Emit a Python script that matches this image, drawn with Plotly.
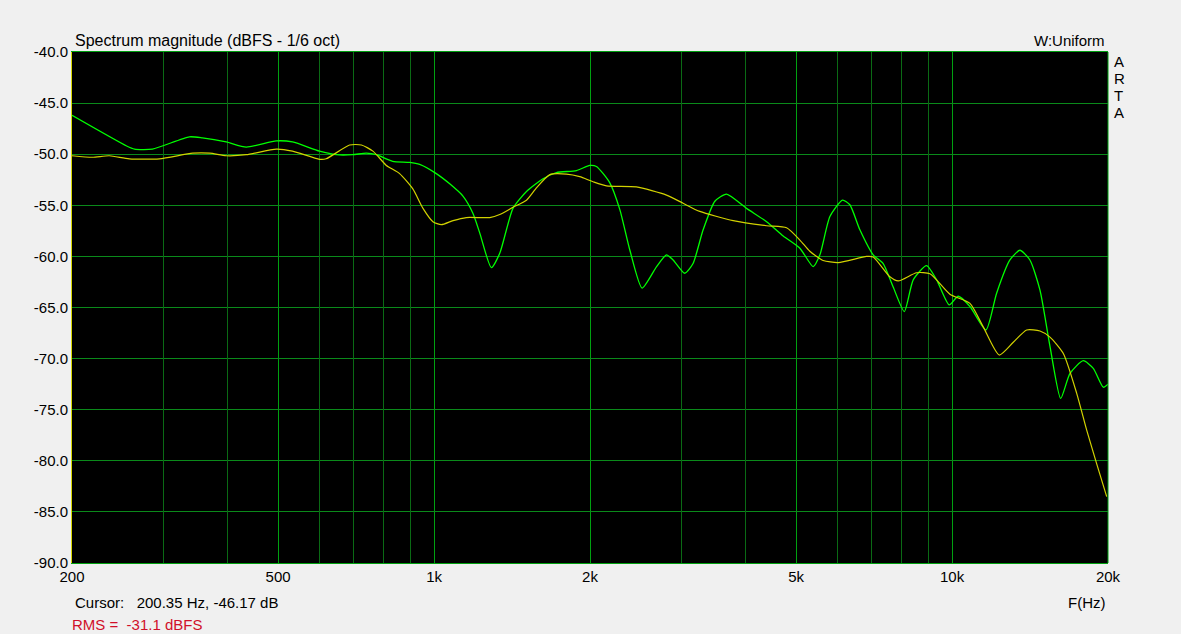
import plotly.graph_objects as go

green_freq = [200, 255, 264, 286, 337, 357, 397, 434, 496, 533, 601, 648, 696, 740,
              774, 832, 897, 938, 1010, 1072, 1137, 1189, 1225, 1290, 1339, 1420,
              1508, 1623, 1723, 1883, 1998, 2058, 2184, 2283, 2388, 2521, 2689,
              2810, 2894, 3048, 3162, 3307, 3484, 3669, 4011, 4385, 4720, 5084,
              5394, 5557, 5810, 6146, 6349, 6638, 7043, 7362, 7697, 8088, 8414,
              8930, 9338, 9875, 10278, 10828, 11628, 12190, 12934, 13521, 14135,
              14782, 15453, 16206, 16892, 17919, 18734, 19584, 20000]
green_db = [-46.2, -49.2, -49.5, -49.5, -48.3, -48.4, -48.8, -49.3, -48.7, -48.8,
            -49.7, -50.05, -50.05, -49.9, -50.05, -50.7, -50.8, -51.0, -51.9, -52.9,
            -54.1, -55.8, -57.7, -61.1, -59.7, -55.3, -53.65, -52.4, -51.8, -51.6,
            -51.1, -51.2, -52.8, -55.4, -59.4, -63.1, -61.0, -59.85, -60.35, -61.65,
            -60.7, -57.4, -54.6, -53.9, -55.3, -56.6, -58.0, -59.2, -61.0, -59.85,
            -56.1, -54.5, -54.95, -57.4, -59.85, -60.7, -63.0, -65.4, -62.3, -60.9,
            -62.3, -64.75, -63.9, -64.9, -67.2, -63.6, -60.35, -59.4, -60.35, -63.3,
            -68.8, -73.9, -71.45, -70.2, -70.95, -72.8, -72.5]

yellow_freq = [200, 219, 236, 258, 295, 342, 369, 397, 434, 496, 533, 601, 619, 687,
               724, 762, 809, 858, 910, 952, 995, 1033, 1088, 1154, 1281, 1339,
               1420, 1508, 1576, 1673, 1801, 1911, 2028, 2152, 2458, 2810, 3025,
               3258, 3779, 4385, 4792, 5084, 5314, 5638, 6028, 6839, 7043, 7587,
               7871, 8540, 9064, 9905, 10828, 11486, 12331, 13128, 13932, 14782,
               15453, 16398, 17402, 18193, 19020, 19885]
yellow_db = [-50.15, -50.3, -50.15, -50.45, -50.45, -49.9, -49.9, -50.15, -50.05,
             -49.5, -49.7, -50.5, -50.45, -49.1, -49.1, -49.7, -51.1, -51.9, -53.4,
             -55.3, -56.6, -56.9, -56.5, -56.2, -56.2, -55.9, -55.2, -54.5, -53.3,
             -52.0, -51.95, -52.2, -52.7, -53.1, -53.2, -54.0, -54.8, -55.6, -56.5,
             -57.0, -57.2, -58.4, -59.5, -60.4, -60.6, -60.0, -60.05, -62.0, -62.4,
             -61.6, -61.7, -63.7, -64.6, -66.9, -69.65, -68.4, -67.2, -67.3, -67.9,
             -69.5, -73.4, -77.0, -80.3, -83.5]

x_ticks = [200, 500, 1000, 2000, 5000, 10000, 20000]
x_ticktext = ['200', '500', '1k', '2k', '5k', '10k', '20k']
x_minor = [300, 400, 600, 700, 800, 900, 3000, 4000, 6000, 7000, 8000, 9000]
y_ticks = [-40, -45, -50, -55, -60, -65, -70, -75, -80, -85, -90]
y_ticktext = ['-40.0', '-45.0', '-50.0', '-55.0', '-60.0', '-65.0',
              '-70.0', '-75.0', '-80.0', '-85.0', '-90.0']

font_dict = dict(family='Liberation Sans, Arial', size=15, color='black')
nbsp = '\u00a0'

fig = go.Figure()
# yellow curve sits on the overlay axis that carries the darker minor grid
fig.add_trace(go.Scatter(x=yellow_freq, y=yellow_db, mode='lines', xaxis='x2',
                         line=dict(color='#d2d200', width=1.2, shape='spline', smoothing=0.6)))
fig.add_trace(go.Scatter(x=green_freq, y=green_db, mode='lines',
                         line=dict(color='#00ff00', width=1.3, shape='spline', smoothing=0.6)))

fig.update_layout(
    width=1181, height=634,
    font=font_dict,
    paper_bgcolor='#f0f0f0',
    plot_bgcolor='black',
    showlegend=False,
    margin=dict(l=72, r=73, t=52, b=71),
    xaxis=dict(type='log', range=[2.30103, 4.30103],
               tickvals=x_ticks, ticktext=x_ticktext, tickfont=font_dict,
               ticks='', showgrid=True, gridcolor='#00a010', gridwidth=1,
               showline=True, linecolor='#00a010', linewidth=1, mirror=True,
               zeroline=False),
    xaxis2=dict(type='log', range=[2.30103, 4.30103], overlaying='x', side='bottom',
                tickvals=x_minor, showticklabels=False, ticks='',
                showgrid=True, gridcolor='#0a6a14', gridwidth=1,
                showline=False, zeroline=False),
)
fig.update_yaxes(
    range=[-90, -40],
    tickvals=y_ticks, ticktext=y_ticktext,
    tickfont=font_dict,
    ticks='', showgrid=True, gridcolor='#0a8a1a', gridwidth=1,
    showline=True, linecolor='#d8d800', linewidth=1, mirror=False,
    zeroline=False,
)
# right border is green, left one yellow
fig.add_shape(type='line', xref='paper', yref='paper', x0=1, x1=1, y0=0, y1=1,
              line=dict(color='#00a010', width=1))

fig.add_annotation(text='Spectrum magnitude (dBFS - 1/6 oct)', xref='paper', yref='paper',
                   x=0, y=1, xanchor='left', yanchor='bottom', xshift=1, yshift=1,
                   showarrow=False, font=dict(family='Liberation Sans, Arial', size=16, color='black'))
fig.add_annotation(text='W:Uniform', xref='paper', yref='paper',
                   x=1, y=1, xanchor='right', yanchor='bottom', xshift=-1, yshift=1,
                   showarrow=False, font=font_dict)
for i, ch in enumerate('ARTA'):
    fig.add_annotation(text=ch, xref='paper', yref='paper',
                       x=1, y=1, xanchor='left', yanchor='top', xshift=4, yshift=1 - 17 * i,
                       showarrow=False, font=font_dict)
fig.add_annotation(text='Cursor:' + nbsp * 3 + '200.35 Hz, -46.17 dB', xref='paper', yref='paper',
                   x=0, y=0, xanchor='left', yanchor='top', xshift=1, yshift=-29,
                   showarrow=False, font=font_dict)
fig.add_annotation(text='F(Hz)', xref='paper', yref='paper',
                   x=1, y=0, xanchor='right', yanchor='top', xshift=0, yshift=-29,
                   showarrow=False, font=font_dict)
fig.add_annotation(text='RMS =' + nbsp * 2 + '-31.1 dBFS', xref='paper', yref='paper',
                   x=0, y=0, xanchor='left', yanchor='top', xshift=-2, yshift=-51,
                   showarrow=False, font=dict(family='Liberation Sans, Arial', size=15, color='#d0102a'))

fig.write_html("out.html", config={'displayModeBar': False},
               post_script="document.body.style.margin='0';document.body.style.overflow='hidden';")
